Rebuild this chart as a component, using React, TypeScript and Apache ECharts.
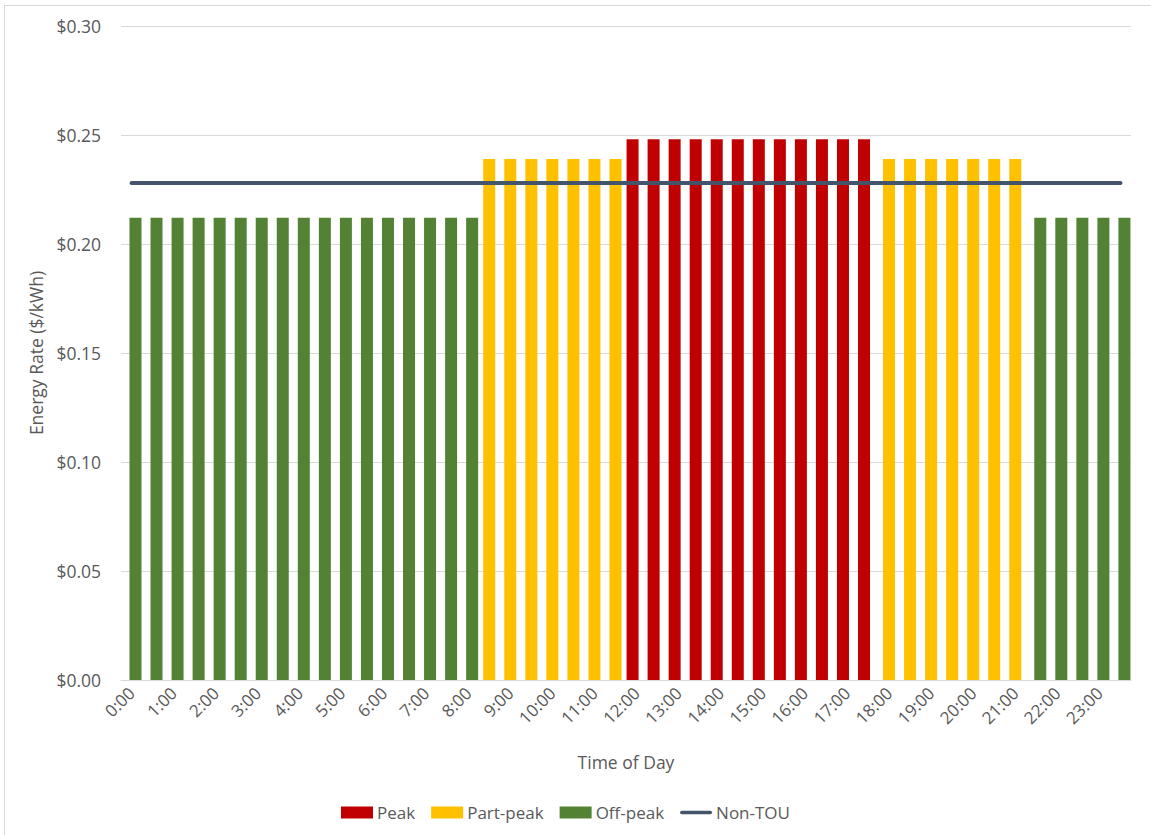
import React, { useEffect, useRef } from "react";
import * as echarts from "echarts";

// Half-hour slots of the day
const timeSlots = [
  "0:00", "0:30", "1:00", "1:30", "2:00", "2:30", "3:00", "3:30",
  "4:00", "4:30", "5:00", "5:30", "6:00", "6:30", "7:00", "7:30",
  "8:00", "8:30", "9:00", "9:30", "10:00", "10:30", "11:00", "11:30",
  "12:00", "12:30", "13:00", "13:30", "14:00", "14:30", "15:00", "15:30",
  "16:00", "16:30", "17:00", "17:30", "18:00", "18:30", "19:00", "19:30",
  "20:00", "20:30", "21:00", "21:30", "22:00", "22:30", "23:00", "23:30",
];

const _ = null;

// Energy rates ($/kWh) by TOU period
const peak = [
  _, _, _, _, _, _, _, _, _, _, _, _, _, _, _, _,
  _, _, _, _, _, _, _, _,
  0.248, 0.248, 0.248, 0.248, 0.248, 0.248, 0.248, 0.248, 0.248, 0.248, 0.248, 0.248,
  _, _, _, _, _, _, _, _, _, _, _, _,
];

const partPeak = [
  _, _, _, _, _, _, _, _, _, _, _, _, _, _, _, _,
  _, 0.239, 0.239, 0.239, 0.239, 0.239, 0.239, 0.239,
  _, _, _, _, _, _, _, _, _, _, _, _,
  0.239, 0.239, 0.239, 0.239, 0.239, 0.239, 0.239, _, _, _, _, _,
];

const offPeak = [
  0.212, 0.212, 0.212, 0.212, 0.212, 0.212, 0.212, 0.212,
  0.212, 0.212, 0.212, 0.212, 0.212, 0.212, 0.212, 0.212,
  0.212, _, _, _, _, _, _, _,
  _, _, _, _, _, _, _, _, _, _, _, _,
  _, _, _, _, _, _, _, 0.212, 0.212, 0.212, 0.212, 0.212,
];

const nonTou = [
  0.228, 0.228, 0.228, 0.228, 0.228, 0.228, 0.228, 0.228,
  0.228, 0.228, 0.228, 0.228, 0.228, 0.228, 0.228, 0.228,
  0.228, 0.228, 0.228, 0.228, 0.228, 0.228, 0.228, 0.228,
  0.228, 0.228, 0.228, 0.228, 0.228, 0.228, 0.228, 0.228,
  0.228, 0.228, 0.228, 0.228, 0.228, 0.228, 0.228, 0.228,
  0.228, 0.228, 0.228, 0.228, 0.228, 0.228, 0.228, 0.228,
];

const FONT = "'Open Sans', sans-serif";
const TEXT = "#595959";
const GRID = "#d9d9d9";
const LINE_COLOR = "#44546A";

// Rounded horizontal stroke used as the legend marker of the flat-rate line
const LINE_ICON = "path://M2,0 L33,0 A2,2 0 0 1 33,4 L2,4 A2,2 0 0 1 2,0 Z";

export default function App() {
  const ref = useRef<HTMLDivElement>(null);

  useEffect(() => {
    if (!ref.current) return;
    const chart = echarts.init(ref.current, undefined, { renderer: "svg" });

    const bar = (name: string, data: (number | null)[], color: string) => ({
      name,
      type: "bar",
      data,
      barWidth: 12,
      barGap: "-67%",
      itemStyle: { color },
    });

    chart.setOption({
      animation: false,
      backgroundColor: "#ffffff",
      textStyle: { fontFamily: FONT },
      grid: { left: 121, right: 20, top: 26, bottom: 155, containLabel: false },
      legend: {
        left: 341,
        top: 804,
        padding: 0,
        itemWidth: 32,
        itemHeight: 12,
        itemGap: 16,
        textStyle: { color: TEXT, fontSize: 17, fontFamily: FONT, padding: [0, 0, 0, -1] },
        data: [
          { name: "Peak", icon: "rect" },
          { name: "Part-peak", icon: "rect" },
          { name: "Off-peak", icon: "rect" },
          { name: "Non-TOU", icon: LINE_ICON },
        ],
      },
      xAxis: {
        type: "category",
        data: timeSlots,
        boundaryGap: true,
        name: "Time of Day",
        nameLocation: "middle",
        nameGap: 73,
        nameTextStyle: { color: TEXT, fontSize: 17.5, fontFamily: FONT },
        axisLine: { lineStyle: { color: GRID, width: 1 } },
        axisTick: { show: false },
        axisLabel: {
          interval: 1,
          rotate: 45,
          margin: 10,
          color: TEXT,
          fontSize: 17,
          fontFamily: FONT,
        },
      },
      yAxis: {
        type: "value",
        min: 0,
        max: 0.3,
        interval: 0.05,
        name: "Energy Rate ($/kWh)",
        nameLocation: "middle",
        nameRotate: 90,
        nameGap: 71,
        nameTextStyle: { color: TEXT, fontSize: 17.5, fontFamily: FONT },
        axisLine: { show: false },
        axisTick: { show: false },
        splitLine: { lineStyle: { color: GRID, width: 1 } },
        axisLabel: {
          margin: 20,
          color: TEXT,
          fontSize: 17.5,
          fontFamily: FONT,
          formatter: (v: number) => "$" + v.toFixed(2),
        },
      },
      series: [
        bar("Peak", peak, "#C00000"),
        bar("Part-peak", partPeak, "#FFC000"),
        bar("Off-peak", offPeak, "#548235"),
        {
          name: "Non-TOU",
          type: "line",
          data: nonTou,
          symbol: "none",
          z: 5,
          lineStyle: { color: LINE_COLOR, width: 4, cap: "round" },
          itemStyle: { color: LINE_COLOR },
        },
      ],
      graphic: [
        {
          type: "line",
          shape: { x1: 4, y1: 5.5, x2: 1151, y2: 5.5 },
          style: { stroke: GRID, lineWidth: 1 },
          silent: true,
        },
        {
          type: "line",
          shape: { x1: 4.5, y1: 5, x2: 4.5, y2: 835 },
          style: { stroke: GRID, lineWidth: 1 },
          silent: true,
        },
      ],
    });

    return () => chart.dispose();
  }, []);

  return (
    <div
      ref={ref}
      style={{ position: "absolute", left: 0, top: 0, width: 1151, height: 835 }}
    />
  );
}
